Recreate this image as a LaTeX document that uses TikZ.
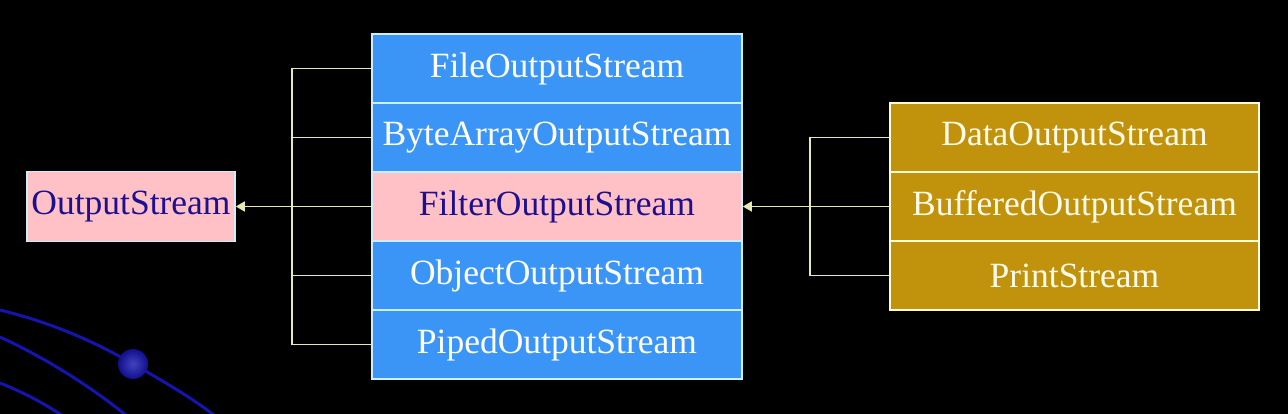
\documentclass[tikz,border=0pt]{standalone}
\usepackage{fontspec}
\setmainfont{Liberation Serif}
\usetikzlibrary{arrows.meta}
\definecolor{bgblue}{HTML}{3A95F6}
\definecolor{bgpink}{HTML}{FFC0C6}
\definecolor{bggold}{HTML}{C1920C}
\definecolor{navy}{HTML}{1C1090}
\definecolor{conn}{HTML}{E8E8B4}
\definecolor{orbit}{HTML}{1414B0}
\definecolor{cream}{HTML}{FFFBEA}
\tikzset{
  cell/.style={rectangle, inner sep=0pt, minimum height=69pt, font=\fontsize{35.5}{38}\selectfont},
  bluecell/.style={cell, fill=bgblue, draw=white!80!cyan, line width=1.6pt, text=white, minimum width=370pt},
  pinkcell/.style={cell, fill=bgpink, draw=white!80!cyan, line width=1.6pt, text=navy, minimum width=370pt},
  goldcell/.style={cell, fill=bggold, draw=cream!90!yellow, line width=1.4pt, text=cream, minimum width=369pt},
  link/.style={draw=conn, line width=1.6pt},
  inherit/.style={link, -{Triangle[length=9pt,width=10pt,fill=conn]}},
}
\begin{document}
\begin{tikzpicture}[x=1pt,y=-1pt]
\fill[black] (0,0) rectangle (1288,414);
\useasboundingbox (0,0) rectangle (1288,414);
% decorative orbits
\draw[orbit, line width=3pt] (0,310) .. controls (60,325) and (100,345) .. (133,364) .. controls (165,382) and (195,400) .. (215,416);
\draw[orbit, line width=3pt] (0,337) .. controls (50,360) and (95,390) .. (127,416);
\draw[orbit, line width=3pt] (0,383) .. controls (25,393) and (45,404) .. (63,416);
\shade[inner color=orbit!80!white, outer color=orbit!80!black] (133,364) circle (15pt);
% left node
\node[pinkcell, minimum width=208pt, minimum height=70pt] (os) at (131,206.5) {OutputStream};
% middle column
\node[bluecell] (fos) at (557,68.5) {FileOutputStream};
\node[bluecell] (bos) at (557,137.5) {ByteArrayOutputStream};
\node[pinkcell] (filt) at (557,206.5) {FilterOutputStream};
\node[bluecell] (oos) at (557,275.5) {ObjectOutputStream};
\node[bluecell] (pos) at (557,344.5) {PipedOutputStream};
% right column
\node[goldcell] (dos) at (1074.5,137.5) {DataOutputStream};
\node[goldcell] (bufos) at (1074.5,206.5) {BufferedOutputStream};
\node[goldcell] (ps) at (1074.5,275.5) {PrintStream};
% trunks
\coordinate (tl) at (292,0);
\coordinate (tr) at (810,0);
\draw[link] (fos.west) -- (fos.west -| tl) -- (pos.west -| tl) -- (pos.west);
\draw[link] (bos.west) -- (bos.west -| tl);
\draw[link] (oos.west) -- (oos.west -| tl);
\draw[inherit] (filt.west) -- (os.east);
\draw[link] (dos.west) -- (dos.west -| tr) -- (ps.west -| tr) -- (ps.west);
\draw[inherit] (bufos.west) -- (filt.east);
\end{tikzpicture}
\end{document}
